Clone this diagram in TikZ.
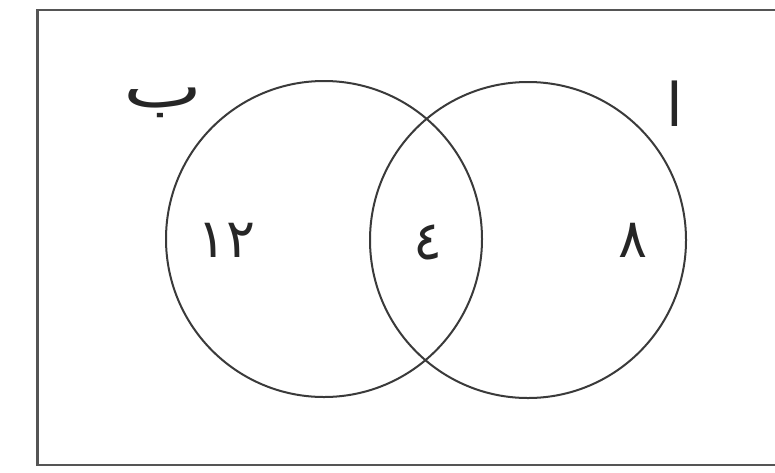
\documentclass[tikz,border=0pt]{standalone}
\usepackage{fontspec}
\usepackage{tikz}
\usetikzlibrary{positioning}
\TeXXeTstate=1
\newfontfamily\arabicfont[Script=Arabic]{DejaVu Sans}
\definecolor{cline}{HTML}{3A3A3A}
\definecolor{cframe}{HTML}{555555}

\begin{document}
\begin{tikzpicture}[
    x=1pt, y=-1pt,
    setcircle/.style={draw=cline, circle, line width=2pt, minimum size=316pt, inner sep=0pt},
    setname/.style={font=\arabicfont\fontsize{60}{68}\selectfont, text=black!85, inner sep=0pt},
    count/.style={font=\arabicfont\fontsize{54}{62}\selectfont, text=black!85, inner sep=0pt},
]
\useasboundingbox (0,0) rectangle (775,472);

% Frame (right edge runs off the picture)
\begin{scope}
\clip (0,0) rectangle (775,472);
\draw[cframe, line width=2.5pt] (37.5,10) rectangle (800,465);
\end{scope}

% Sets
\node[setcircle] (setB) at (324,239) {};
\node[setcircle] (setA) at (528,240) {};

% Set names
\node[setname, xscale=1.4, transform shape] (nameB) at (163,103) {\beginR ب\endR};
\node[setname] (nameA) at (675,104) {\beginR ا\endR};

% Counts
\node[count] (onlyB) at (227,240) {١٢};
\node[count] (both) at (428,242) {٤};
\node[count] (onlyA) at (633,240) {٨};

\end{tikzpicture}
\end{document}
